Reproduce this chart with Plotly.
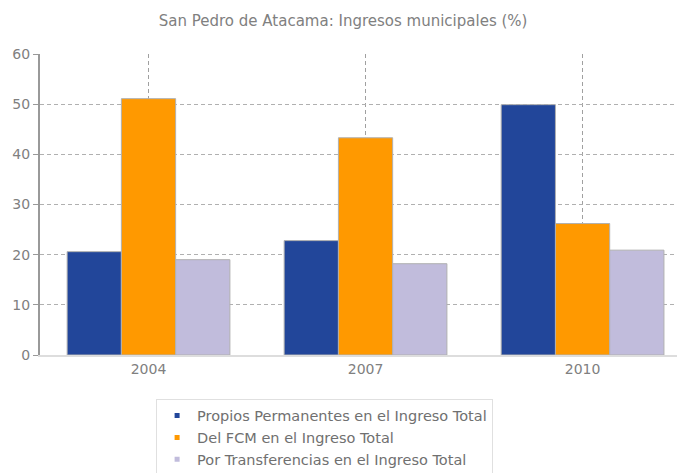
import plotly.graph_objects as go

years = ["2004", "2007", "2010"]
series_names = [
    "Propios Permanentes en el Ingreso Total",
    "Del FCM en el Ingreso Total",
    "Por Transferencias en el Ingreso Total",
]
propios = [20.6, 22.8, 49.9]
fcm = [51.1, 43.3, 26.2]
transfer = [19.0, 18.2, 20.9]
colors = ["#22469A", "#FF9900", "#C1BCDC"]

fig = go.Figure()
for name, vals, c in zip(series_names, [propios, fcm, transfer], colors):
    fig.add_trace(go.Bar(x=years, y=vals, name=name, marker_color=c,
                         marker_line_color="#B0B0B0", marker_line_width=1,
                         showlegend=False))
for name, c in zip(series_names, colors):
    fig.add_trace(go.Scatter(x=[None], y=[None], mode="markers", name=name,
                             marker=dict(symbol="square", size=5, color=c)))

fig.update_layout(
    width=677, height=465,
    margin=dict(l=32, r=0, t=46, b=118, autoexpand=False),
    paper_bgcolor="white", plot_bgcolor="white",
    barmode="group", bargap=0.25, bargroupgap=0,
    font=dict(family="DejaVu Sans", color="#808080", size=14),
    title=dict(text="San Pedro de Atacama: Ingresos municipales (%)",
               x=0.495, xanchor="center", y=0.972, yanchor="middle",
               font=dict(size=15, color="#808080")),
    xaxis=dict(range=[-0.5, 2.472], showgrid=True, gridcolor="#A0A0A0",
               griddash="4px,3px", gridwidth=1,
               showline=True, linecolor="#DDDDDD", linewidth=2,
               ticks="", tickfont=dict(size=14, color="#808080")),
    yaxis=dict(range=[0, 60], dtick=10, showgrid=True, gridcolor="#B0B0B0",
               griddash="4px,3px", gridwidth=1, zeroline=False,
               showline=True, linecolor="#999999", linewidth=2,
               ticks="outside", ticklen=5, tickcolor="#999999",
               tickfont=dict(size=14, color="#808080")),
    legend=dict(x=0.18, xanchor="left", y=-0.145, yanchor="top",
                bgcolor="rgba(0,0,0,0)", bordercolor="#E0E0E0", borderwidth=1,
                font=dict(size=14.5, color="#707070"), tracegroupgap=0,
                itemwidth=30),
)

fig.write_html("out.html")
